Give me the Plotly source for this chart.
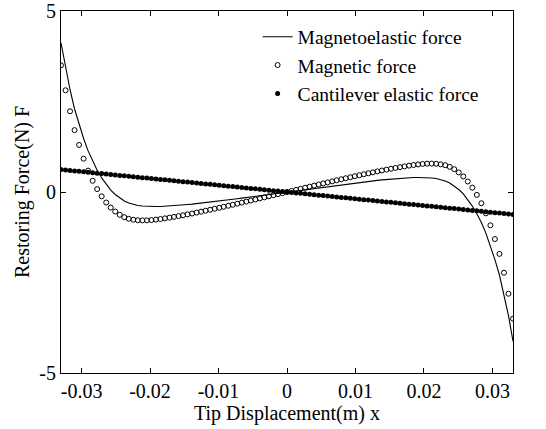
import numpy as np
import plotly.graph_objects as go

# Tip displacement samples (m)
tip_x = np.linspace(-0.033, 0.033, 101)

# Magnetic force (N)
magnetic_force = [
    3.500, 2.810, 2.230, 1.710, 1.300, 0.920, 0.590, 0.310, 0.080, -0.120,
    -0.290, -0.430, -0.540, -0.630, -0.695, -0.740, -0.765, -0.780, -0.785, -0.783,
    -0.775, -0.762, -0.746, -0.728, -0.708, -0.687, -0.665, -0.642, -0.618, -0.594,
    -0.569, -0.543, -0.517, -0.490, -0.463, -0.436, -0.408, -0.380, -0.352, -0.323,
    -0.294, -0.265, -0.236, -0.207, -0.177, -0.148, -0.118, -0.089, -0.059, -0.030,
    0.000,
    0.030, 0.059, 0.089, 0.118, 0.148, 0.177, 0.207, 0.236, 0.265, 0.294,
    0.323, 0.352, 0.380, 0.408, 0.436, 0.463, 0.490, 0.517, 0.543, 0.569,
    0.594, 0.618, 0.642, 0.665, 0.687, 0.708, 0.728, 0.746, 0.762, 0.775,
    0.783, 0.785, 0.780, 0.765, 0.740, 0.695, 0.630, 0.540, 0.430, 0.290,
    0.120, -0.080, -0.310, -0.590, -0.920, -1.300, -1.710, -2.230, -2.810, -3.500,
]

# Cantilever elastic force (N)
elastic_force = [
    0.620, 0.608, 0.595, 0.583, 0.570, 0.558, 0.546, 0.533, 0.521, 0.508,
    0.496, 0.484, 0.471, 0.459, 0.446, 0.434, 0.422, 0.409, 0.397, 0.384,
    0.372, 0.360, 0.347, 0.335, 0.322, 0.310, 0.298, 0.285, 0.273, 0.260,
    0.248, 0.236, 0.223, 0.211, 0.198, 0.186, 0.174, 0.161, 0.149, 0.136,
    0.124, 0.112, 0.099, 0.087, 0.074, 0.062, 0.050, 0.037, 0.025, 0.012,
    0.000,
    -0.012, -0.025, -0.037, -0.050, -0.062, -0.074, -0.087, -0.099, -0.112, -0.124,
    -0.136, -0.149, -0.161, -0.174, -0.186, -0.198, -0.211, -0.223, -0.236, -0.248,
    -0.260, -0.273, -0.285, -0.298, -0.310, -0.322, -0.335, -0.347, -0.360, -0.372,
    -0.384, -0.397, -0.409, -0.422, -0.434, -0.446, -0.459, -0.471, -0.484, -0.496,
    -0.508, -0.521, -0.533, -0.546, -0.558, -0.570, -0.583, -0.595, -0.608, -0.620,
]

# Magnetoelastic (total) restoring force (N)
magnetoelastic_force = [
    4.120, 3.418, 2.825, 2.293, 1.870, 1.478, 1.136, 0.843, 0.601, 0.388,
    0.206, 0.054, -0.069, -0.171, -0.249, -0.306, -0.343, -0.371, -0.388, -0.399,
    -0.403, -0.402, -0.399, -0.393, -0.386, -0.377, -0.367, -0.357, -0.345, -0.334,
    -0.321, -0.307, -0.294, -0.279, -0.265, -0.250, -0.234, -0.219, -0.203, -0.187,
    -0.170, -0.153, -0.137, -0.120, -0.103, -0.086, -0.068, -0.052, -0.034, -0.018,
    0.000,
    0.018, 0.034, 0.052, 0.068, 0.086, 0.103, 0.120, 0.137, 0.153, 0.170,
    0.187, 0.203, 0.219, 0.234, 0.250, 0.265, 0.279, 0.294, 0.307, 0.321,
    0.334, 0.345, 0.357, 0.367, 0.377, 0.386, 0.393, 0.399, 0.402, 0.403,
    0.399, 0.388, 0.371, 0.343, 0.306, 0.249, 0.171, 0.069, -0.054, -0.206,
    -0.388, -0.601, -0.843, -1.136, -1.478, -1.870, -2.293, -2.825, -3.418, -4.120,
]

x_ticks = [-0.03, -0.02, -0.01, 0, 0.01, 0.02, 0.03]
x_tick_text = ["-0.03", "-0.02", "-0.01", "0", "0.01", "0.02", "0.03"]
y_ticks = [-5, 0, 5]
y_tick_text = ["-5", "0", "5"]

FONT = "Liberation Serif"

fig = go.Figure()
fig.add_trace(go.Scatter(
    x=tip_x, y=magnetoelastic_force, mode="lines",
    name="Magnetoelastic force",
    line=dict(color="black", width=1.1),
))
fig.add_trace(go.Scatter(
    x=tip_x, y=magnetic_force, mode="markers",
    name="Magnetic force",
    marker=dict(symbol="circle-open", size=5, color="black", line=dict(width=1, color="black")),
))
fig.add_trace(go.Scatter(
    x=tip_x, y=elastic_force, mode="markers",
    name="Cantilever elastic force",
    marker=dict(symbol="circle", size=5, color="black"),
))

axis_common = dict(
    showline=True, linecolor="black", linewidth=1.2, mirror="ticks",
    ticks="inside", ticklen=5, tickwidth=1, tickcolor="black",
    showgrid=False, zeroline=False, ticklabeloverflow="allow", automargin=False,
    tickfont=dict(family=FONT, size=20, color="black"),
)

fig.update_xaxes(
    range=[-0.033, 0.033], tickvals=x_ticks, ticktext=x_tick_text,
    title=dict(text="Tip Displacement(m) x", font=dict(family=FONT, size=20, color="black"), standoff=0),
    **axis_common,
)
fig.update_yaxes(
    range=[-5, 5], tickvals=y_ticks, ticktext=y_tick_text,
    title=dict(text="Restoring Force(N) F", font=dict(family=FONT, size=20, color="black"), standoff=4),
    **axis_common,
)

fig.update_layout(
    width=546, height=429,
    margin=dict(l=61, r=33, t=11, b=56),
    paper_bgcolor="white", plot_bgcolor="white",
    font=dict(family=FONT, size=20, color="black"),
    legend=dict(
        x=0.435, y=0.982, xanchor="left", yanchor="top",
        bgcolor="rgba(0,0,0,0)", borderwidth=0,
        font=dict(family=FONT, size=19.5, color="black"),
        itemsizing="trace", tracegroupgap=0,
    ),
    showlegend=True,
)

fig.write_html("out.html")
